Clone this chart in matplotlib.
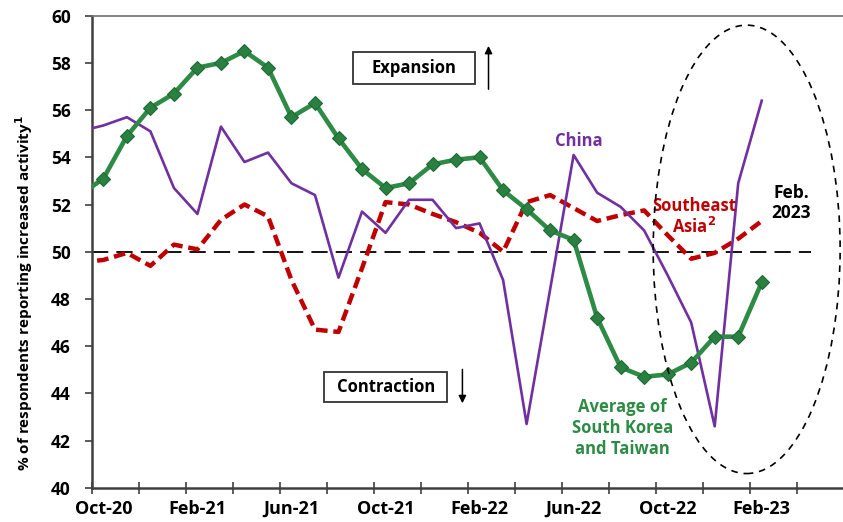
import numpy as np
import matplotlib
matplotlib.use("Agg")
import matplotlib.pyplot as plt
from matplotlib.patches import Ellipse, Rectangle

plt.rcParams["font.family"] = ["Open Sans", "DejaVu Sans"]
plt.rcParams["font.weight"] = "bold"

# monthly survey readings, Sep-20 through Feb-23
months = ["Sep-20", "Oct-20", "Nov-20", "Dec-20", "Jan-21", "Feb-21", "Mar-21",
          "Apr-21", "May-21", "Jun-21", "Jul-21", "Aug-21", "Sep-21", "Oct-21",
          "Nov-21", "Dec-21", "Jan-22", "Feb-22", "Mar-22", "Apr-22", "May-22",
          "Jun-22", "Jul-22", "Aug-22", "Sep-22", "Oct-22", "Nov-22", "Dec-22",
          "Jan-23", "Feb-23"]
korea_taiwan = [52.4, 53.1, 54.9, 56.1, 56.7, 57.8, 58.0, 58.5, 57.8, 55.7,
                56.3, 54.8, 53.5, 52.7, 52.9, 53.7, 53.9, 54.0, 52.6, 51.8,
                50.9, 50.5, 47.2, 45.1, 44.7, 44.8, 45.3, 46.4, 46.4, 48.7]
china = [55.1, 55.35, 55.7, 55.1, 52.7, 51.6, 55.3, 53.8, 54.2, 52.9,
         52.4, 48.9, 51.7, 50.8, 52.2, 52.2, 51.0, 51.2, 48.8, 42.7,
         48.4, 54.1, 52.5, 51.9, 50.9, 49.0, 47.0, 42.6, 52.9, 56.4]
se_asia = [49.55, 49.65, 49.95, 49.4, 50.3, 50.1, 51.35, 52.0, 51.5, 48.8,
           46.7, 46.6, 49.3, 52.1, 52.0, 51.6, 51.25, 50.8, 50.0, 52.1,
           52.4, 51.85, 51.3, 51.55, 51.75, 50.7, 49.7, 49.95, 50.55, 51.3]
tick_labels = ["Oct-20", "Feb-21", "Jun-21", "Oct-21", "Feb-22", "Jun-22",
               "Oct-22", "Feb-23"]
neutral = 50

GREEN = "#2e8b45"
PURPLE = "#7030a0"
RED = "#c00000"

# category positions, Oct-20 = 0
x = np.arange(len(months)) - 1

fig = plt.figure(figsize=(8.43, 5.22), dpi=100)
ax = fig.add_axes([0.1087, 0.0657, 0.8925, 0.9042])

ax.plot([-0.5, 30.1], [neutral, neutral], color="black", lw=1.3,
        dashes=(9, 4.5), zorder=1)
ax.plot(x, se_asia, color=RED, lw=3.2, dashes=(2.6, 1.3), zorder=2)
ax.plot(x, china, color=PURPLE, lw=1.9, zorder=3)
ax.plot(x, korea_taiwan, color=GREEN, lw=3.3, marker="D", ms=7,
        mfc="#2a8040", mec="#1f6a33", mew=0.8, zorder=4)

# highlight the latest readings
ax.add_patch(Ellipse((27.36, 50.1), 7.95, 19.0, fill=False, ec="black",
                     lw=1.2, ls=(0, (4, 3.5)), zorder=5))

ax.set_xlim(-0.5, 31.5)
ax.set_ylim(40, 60)
ax.set_yticks(np.arange(40, 61, 2))
ax.set_xticks(np.arange(0, 29, 4))
ax.set_xticklabels(tick_labels)
ax.set_xticks(np.arange(-0.5, 31, 2), minor=True)
ax.tick_params(axis="x", which="major", length=0, pad=9, labelsize=13)
ax.tick_params(axis="x", which="minor", length=9, direction="inout",
               width=1.2, color="#404040")
ax.tick_params(axis="y", length=5, width=1.2, color="#404040", pad=10,
               labelsize=12.5)

for side in ("left", "bottom"):
    ax.spines[side].set_color("#404040")
    ax.spines[side].set_linewidth(1.8)
ax.spines["top"].set_color("#6f6f6f")
ax.spines["top"].set_linewidth(1.2)
ax.spines["right"].set_visible(False)

# expansion / contraction labels
ax.add_patch(Rectangle((10.61, 57.09), 5.2, 1.36, fill=False, ec="#333333",
                       lw=1.3))
ax.text(13.21, 57.77, "Expansion", ha="center", va="center", fontsize=12)
ax.annotate("", xy=(16.38, 58.84), xytext=(16.38, 56.77),
            arrowprops=dict(arrowstyle="-|>", color="black", lw=1.1,
                            mutation_scale=11))
ax.add_patch(Rectangle((9.39, 43.62), 5.24, 1.3, fill=False, ec="#333333",
                       lw=1.3))
ax.text(12.01, 44.27, "Contraction", ha="center", va="center", fontsize=12)
ax.annotate("", xy=(15.27, 43.46), xytext=(15.27, 45.13),
            arrowprops=dict(arrowstyle="-|>", color="black", lw=1.1,
                            mutation_scale=11))

# series labels
ax.text(20.23, 54.69, "China", color=PURPLE, ha="center", va="center",
        fontsize=12)
ax.text(25.13, 51.48, "Southeast\nAsia$^2$", color=RED, ha="center",
        va="center", fontsize=12, linespacing=1.15)
ax.text(29.25, 52.08, "Feb.\n2023", color="black", ha="center", va="center",
        fontsize=12.5, linespacing=1.15)
ax.text(22.07, 42.52, "Average of\nSouth Korea\nand Taiwan", color=GREEN,
        ha="center", va="center", fontsize=12, linespacing=1.2)

fig.text(24 / 843, 1 - 293 / 522,
         "% of respondents reporting increased activity$^1$",
         rotation=90, ha="center", va="center", fontsize=11)
# title sits mostly above the canvas
fig.text(346 / 843, 1.0125, "Emerging Asia", ha="left", va="baseline",
         fontsize=20)

fig.savefig("out.png", dpi=100)
